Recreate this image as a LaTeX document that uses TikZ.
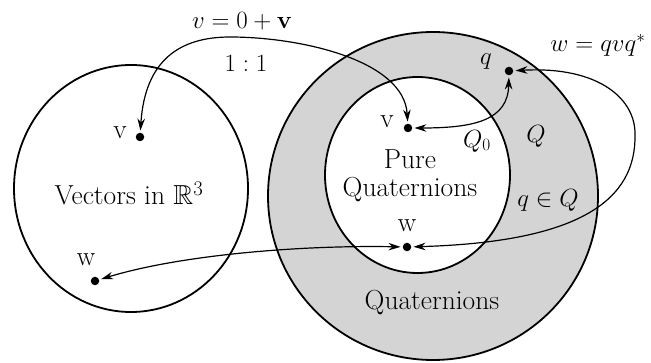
\documentclass[tikz,border=0pt]{standalone}
\usepackage{amssymb}
\usetikzlibrary{arrows.meta}
\begin{document}
\begin{tikzpicture}[x=1pt,y=-1pt,
  ring/.style={line width=1.8pt},
  conn/.style={line width=1.2pt,{Stealth[length=12pt,width=7.5pt]}-{Stealth[length=12pt,width=7.5pt]},shorten <=2pt,shorten >=2pt},
  dotnode/.style={circle,fill=black,inner sep=0pt,minimum size=8.5pt},
  lbl/.style={font=\fontsize{24}{28}\selectfont,inner sep=0pt},
  txt/.style={font=\fontsize{27.5}{28}\selectfont,inner sep=0pt},
  shade/.style={fill=black!17}]
\useasboundingbox (0,0) rectangle (651,363);
% circles
\draw[ring,shade] (433,196) ellipse [x radius=165, y radius=164];
\draw[ring,fill=white] (417.5,175) ellipse [x radius=92.5, y radius=98];
\draw[ring] (131,188.5) ellipse [x radius=117, y radius=123.5];
% dots
\node[dotnode] (vL) at (140,137) {};
\node[dotnode] (vI) at (408,128) {};
\node[dotnode] (q) at (509,71) {};
\node[dotnode] (wI) at (407,247) {};
\node[dotnode] (wL) at (95,281) {};
% connectors
\draw[conn] (vL) .. controls (145,60) and (180,37) .. (230,37)
  .. controls (300,37) and (404,60) .. (vI);
\draw[conn] (vI) .. controls (475,128) and (508,120) .. (q);
\draw[conn] (q) .. controls (600,66) and (636,100) .. (635,135)
  .. controls (636,200) and (580,242) .. (wI);
\draw[conn] (wI) .. controls (300,245) and (180,255) .. (wL);
% point labels
\node[txt] (tvL) at (120,133) {v};
\node[txt] (tvI) at (387,122) {v};
\node[txt] (twI) at (407,226) {w};
\node[txt] (twL) at (86,260) {w};
\node[lbl] (tq) at (486,62) {$q$};
% other labels
\node[lbl] (t1) at (242,21) {$v=0+\mathbf{v}$};
\node[lbl] (t2) at (246,63) {$1:1$};
\node[lbl] (t3) at (598,45) {$w=qvq^{*}$};
\node[lbl] (t4) at (477,141) {$Q_0$};
\node[lbl] (t5) at (536,136) {$Q$};
\node[lbl] (t6) at (548,200) {$q\in Q$};
\node[txt] (t7) at (129,194) {Vectors in $\mathbb{R}^3$};
\node[txt,align=center] (t8) at (410,176) {Pure\\Quaternions};
\node[txt] (t9) at (432,303) {Quaternions};
\end{tikzpicture}
\end{document}
